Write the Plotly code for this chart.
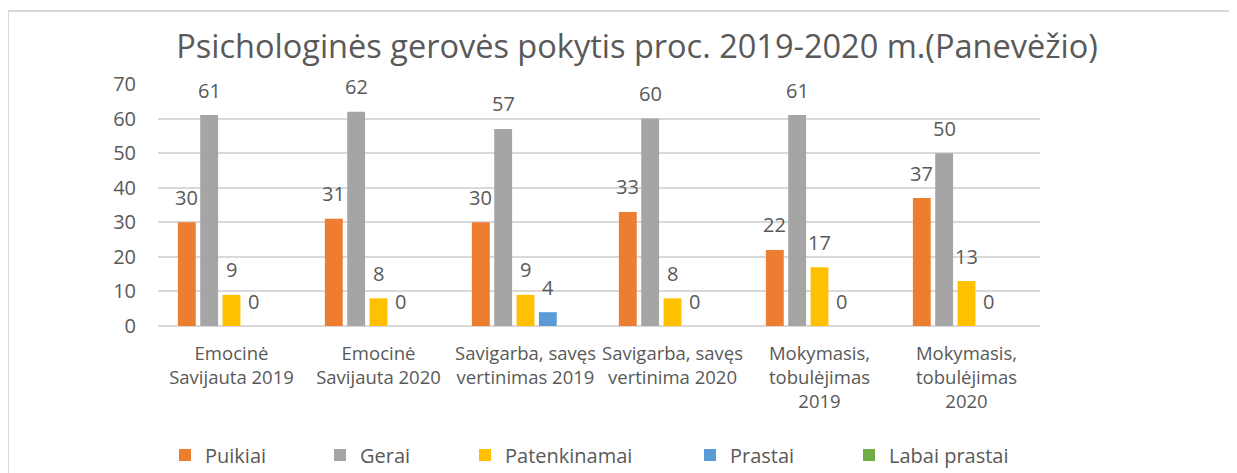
import plotly.graph_objects as go

categories = [
    "Emocinė<br>Savijauta 2019",
    "Emocinė<br>Savijauta 2020",
    "Savigarba, savęs<br>vertinimas 2019",
    "Savigarba, savęs<br>vertinima 2020",
    "Mokymasis,<br>tobulėjimas<br>2019",
    "Mokymasis,<br>tobulėjimas<br>2020",
]
series_names = ["Puikiai", "Gerai", "Patenkinamai", "Prastai", "Labai prastai"]
puikiai = [30, 31, 30, 33, 22, 37]
gerai = [61, 62, 57, 60, 61, 50]
patenkinamai = [9, 8, 9, 8, 17, 13]
prastai = [0, 0, 4, 0, 0, 0]
labai_prastai = [None, None, None, None, None, None]
series_values = [puikiai, gerai, patenkinamai, prastai, labai_prastai]
colors = ["#ED7D31", "#A5A5A5", "#FFC000", "#5B9BD5", "#70AD47"]
y_ticks = [0, 10, 20, 30, 40, 50, 60, 70]
title_text = "Psichologinės gerovės pokytis proc. 2019-2020 m.(Panevėžio)"

# The page body has an 8px margin, so the figure starts at screen (8, 8).
OFF = 8
SW, SH = 1237, 473            # screen size
W, H = SW - OFF, SH - OFF     # figure size
# plot area in screen pixels: x 158..1040, y 84..326
ML, MT = 158 - OFF, 84 - OFF
MR, MB = SW - 1040, SH - 326
BARGAP, BARGROUPGAP = 0.24, 0.2
FONT = "Open Sans"
TXT = "#595959"

plot_w = W - ML - MR
plot_h = H - MT - MB
n_cat = len(categories)
n_ser = len(series_names)
slot = plot_w / n_cat * (1 - BARGAP) / n_ser

fig = go.Figure()
legend_ids = ["legend", "legend2", "legend3", "legend4", "legend5"]
for i, (name, vals, col) in enumerate(zip(series_names, series_values, colors)):
    fig.add_trace(go.Bar(
        name=name, x=categories, y=vals, marker=dict(color=col, line=dict(width=0)),
        legend=legend_ids[i], hoverinfo="skip",
    ))

annotations = []
for i, vals in enumerate(series_values):
    for c, v in zip(categories, vals):
        if v is None:
            continue
        annotations.append(dict(
            x=c, y=v, xref="x", yref="y", text=str(v), showarrow=False,
            xshift=(i - (n_ser - 1) / 2) * slot, yshift=25, yanchor="middle",
            font=dict(family=FONT, size=20, color=TXT),
        ))

# legend text start positions (screen px)
legend_text_x = [205, 360, 505, 730, 889]
legends = {}
for i, lid in enumerate(legend_ids):
    legends[lid] = dict(
        x=(legend_text_x[i] - OFF - 40) / W, xref="container", xanchor="left",
        y=1 - (455 - OFF) / H, yref="container", yanchor="middle",
        orientation="h", font=dict(family=FONT, size=20, color=TXT),
        bgcolor="rgba(0,0,0,0)", itemclick=False, itemdoubleclick=False,
    )

fig.update_layout(
    width=W, height=H,
    margin=dict(l=ML, r=MR, t=MT, b=MB, autoexpand=False),
    paper_bgcolor="white", plot_bgcolor="white",
    barmode="group", bargap=BARGAP, bargroupgap=BARGROUPGAP,
    title=dict(text=title_text, x=(637 - OFF) / W, xref="container", xanchor="center",
               y=1 - (47 - OFF) / H, yref="container", yanchor="middle",
               font=dict(family=FONT, size=32.5, color=TXT)),
    font=dict(family=FONT, color=TXT),
    annotations=annotations,
    showlegend=True,
    **legends,
)
fig.update_xaxes(showline=False, ticks="", showgrid=False, ticklabelstandoff=14,
                 tickfont=dict(family=FONT, size=18.5, color=TXT))
fig.update_yaxes(range=[0, 70], tickvals=y_ticks, showline=False, ticks="",
                 gridcolor="#D9D9D9", gridwidth=1.5, zeroline=True,
                 zerolinecolor="#D9D9D9", zerolinewidth=1.5,
                 ticklabelstandoff=21,
                 tickfont=dict(family=FONT, size=20, color=TXT))

# chart border (top and left edges visible in the reference)
px2x = lambda p: (p - OFF - ML) / plot_w
py2y = lambda p: (H - MB - (p - OFF)) / plot_h
fig.add_shape(type="rect", xref="paper", yref="paper",
              x0=px2x(8), x1=px2x(SW + 20), y0=py2y(SH + 20), y1=py2y(11),
              line=dict(color="#D9D9D9", width=2), fillcolor="rgba(0,0,0,0)",
              layer="below")

fig.write_html("out.html")
